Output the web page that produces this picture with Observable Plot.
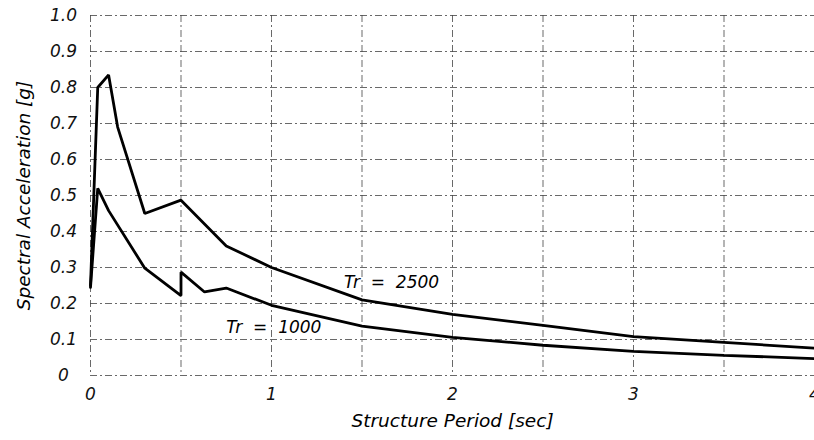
<!DOCTYPE html>
<html>
<head>
<meta charset="utf-8">
<script src="https://cdn.jsdelivr.net/npm/d3@7"></script>
<script src="https://cdn.jsdelivr.net/npm/@observablehq/plot@0.6"></script>
<style>
  html, body { margin: 0; padding: 0; background: #fff; }
  #chart svg { display: block; }
</style>
</head>
<body>
<div id="chart"></div>
<script>
// Tr = 2500 spectrum
const period2500 = [0, 0.04, 0.1, 0.15, 0.3, 0.5, 0.75, 1.0, 1.5, 2.0, 2.5, 3.0, 3.5, 4.0];
const sa2500     = [0.25, 0.80, 0.835, 0.69, 0.45, 0.487, 0.36, 0.30, 0.21, 0.17, 0.139, 0.108, 0.092, 0.076];
// Tr = 1000 spectrum
const period1000 = [0, 0.04, 0.1, 0.3, 0.5, 0.5, 0.63, 0.75, 1.0, 1.5, 2.0, 2.5, 3.0, 3.5, 4.0];
const sa1000     = [0.245, 0.52, 0.458, 0.298, 0.222, 0.287, 0.232, 0.243, 0.195, 0.137, 0.106, 0.084, 0.067, 0.056, 0.047];

const curveLabels = [
  {text: "Tr  =  2500", x: 1.40, y: 0.258},
  {text: "Tr  =  1000", x: 0.75, y: 0.133}
];

const xTicks = [0, 1, 2, 3, 4];
const yTicks = [0, 0.1, 0.2, 0.3, 0.4, 0.5, 0.6, 0.7, 0.8, 0.9, 1.0];
const xGrid = [0, 0.5, 1, 1.5, 2, 2.5, 3, 3.5, 4];
const yGrid = [0, 0.1, 0.2, 0.3, 0.4, 0.5, 0.6, 0.7, 0.8, 0.9, 1.0];

const xLabel = "Structure Period [sec]";
const yLabel = "Spectral Acceleration [g]";

const s2500 = period2500.map((p, i) => ({p, sa: sa2500[i]}));
const s1000 = period1000.map((p, i) => ({p, sa: sa1000[i]}));

const gridStyle = {stroke: "#444", strokeWidth: 1, strokeDasharray: "7,3,2,3", strokeOpacity: 0.8};

const chart = Plot.plot({
  width: 814,
  height: 440,
  marginLeft: 90,
  marginRight: 0,
  marginTop: 15,
  marginBottom: 65,
  style: {fontFamily: "DejaVu Sans", fontStyle: "italic", background: "#fff", color: "#111"},
  x: {domain: [0, 4]},
  y: {domain: [0, 1]},
  marks: [
    Plot.ruleX(xGrid, {...gridStyle}),
    Plot.ruleY(yGrid, {...gridStyle}),
    Plot.axisX({ticks: xTicks, tickSize: 0, tickPadding: 12, tickFormat: d => String(d), fontSize: 17, label: null}),
    Plot.axisY({ticks: yTicks, tickSize: 0, tickPadding: 27, textAnchor: "middle", tickFormat: d => d === 0 ? "0" : d3.format(".1f")(d), fontSize: 17, label: null}),
    Plot.line(s2500, {x: "p", y: "sa", stroke: "#000", strokeWidth: 2.8, strokeLinejoin: "miter"}),
    Plot.line(s1000, {x: "p", y: "sa", stroke: "#000", strokeWidth: 2.8, strokeLinejoin: "miter"}),
    Plot.text(curveLabels, {x: "x", y: "y", text: "text", textAnchor: "start", fontSize: 17, fill: "#000"}),
    Plot.text([xLabel], {frameAnchor: "bottom", dy: 51, textAnchor: "middle", fontSize: 18.5, fill: "#000"}),
    Plot.text([yLabel], {frameAnchor: "left", dx: -66, rotate: -90, textAnchor: "middle", fontSize: 18.5, fill: "#000"})
  ]
});
document.getElementById("chart").appendChild(chart);
</script>
</body>
</html>
